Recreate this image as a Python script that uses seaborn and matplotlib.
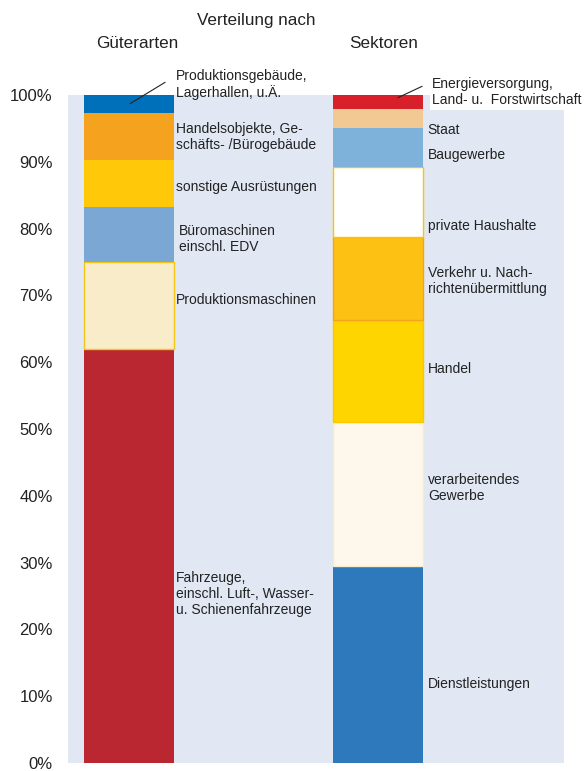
import numpy as np
import matplotlib.pyplot as plt
import seaborn as sns

sns.set_style("white")
plt.rcParams['font.family'] = ['Liberation Sans', 'DejaVu Sans']

# Verteilung nach Güterarten (bottom to top), in %
goods = ["Fahrzeuge,\neinschl. Luft-, Wasser-\nu. Schienenfahrzeuge",
         "Produktionsmaschinen",
         "Büromaschinen\neinschl. EDV",
         "sonstige Ausrüstungen",
         "Handelsobjekte, Ge-\nschäfts- /Bürogebäude",
         "Produktionsgebäude,\nLagerhallen, u.Ä."]
goods_vals = [62.0, 13.0, 8.2, 7.1, 7.0, 2.7]
goods_colors = ["#BA2730", "#F8EDC8", "#7BA7D4", "#FFC90A", "#F5A21F", "#0070BA"]
goods_edges = ["none", "#F5C518", "none", "none", "none", "none"]

# Verteilung nach Sektoren (bottom to top), in %
sectors = ["Dienstleistungen",
           "verarbeitendes\nGewerbe",
           "Handel",
           "Verkehr u. Nach-\nrichtenübermittlung",
           "private Haushalte",
           "Baugewerbe",
           "Staat",
           "Energieversorgung,\nLand- u.  Forstwirtschaft"]
sector_vals = [29.5, 21.5, 15.3, 12.4, 10.5, 5.9, 2.8, 2.1]
sector_colors = ["#2E78BC", "#FDF7EC", "#FFD500", "#FDC114", "#FFFFFF",
                 "#7EB2DB", "#F2C992", "#D7202A"]
sector_edges = ["none", "#F8EBC8", "#FFC400", "#F5A21F", "#FFC400",
                "none", "none", "none"]

yticks = [0, 10, 20, 30, 40, 50, 60, 70, 80, 90, 100]

W, H = 587, 771
fig = plt.figure(figsize=(W / 100, H / 100), dpi=100)
ax = fig.add_axes([68 / W, (H - 763) / H, (564 - 68) / W, 668 / H])
ax.set_facecolor("#E1E8F3")

bar_w = 90 / 249
for xpos, vals, cols, edges in [(0, goods_vals, goods_colors, goods_edges),
                                (1, sector_vals, sector_colors, sector_edges)]:
    bottom = 0
    for v, c, e in zip(vals, cols, edges):
        ax.bar(xpos, v, bottom=bottom, width=bar_w, color=c,
               edgecolor=e, linewidth=1.0 if e != "none" else 0)
        bottom += v

ax.set_xlim(-61 / 249, 1 + 186 / 249)
ax.set_ylim(0, 100)
ax.set_xticks([])
ax.set_yticks(yticks)
ax.set_yticklabels([f"{t}%" for t in yticks])
ax.tick_params(axis="y", length=0, pad=11, labelsize=12, labelcolor="#222222")
for s in ax.spines.values():
    s.set_visible(False)

fs = 10
tc = "#222222"
# left labels (y positions in %)
left_pos = [25.3, 69.3, 78.4, 86.2, 93.7, 101.6]
left_x = [0.19, 0.19, 0.2, 0.19, 0.19, 0.19]
for lab, y, x in zip(goods, left_pos, left_x):
    ax.text(x, y, lab, fontsize=fs, color=tc, va="center", ha="left",
            linespacing=1.2, clip_on=False)
ax.plot([0.004, 0.145], [98.7, 101.9], color="#222222", lw=0.8, clip_on=False)

right_pos = [11.8, 41.2, 59.0, 72.2, 80.4, 91.0, 94.8, 100.4]
for lab, y in zip(sectors, right_pos):
    x = 1.2
    kw = {}
    if lab.startswith("Energie"):
        x = 1.217
        kw = dict(bbox=dict(facecolor="white", edgecolor="none", pad=1.5))
    ax.text(x, y, lab, fontsize=fs, color=tc, va="center", ha="left",
            linespacing=1.2, clip_on=False, **kw)
ax.plot([1.08, 1.177], [99.6, 101.3], color="#222222", lw=0.8, clip_on=False)

fig.text(256 / W, 1 - 20 / H, "Verteilung nach", fontsize=12.3, color=tc,
         ha="center", va="center")
fig.text(137 / W, 1 - 43 / H, "Güterarten", fontsize=12.3, color=tc,
         ha="center", va="center")
fig.text(384 / W, 1 - 43 / H, "Sektoren", fontsize=12.3, color=tc,
         ha="center", va="center")

fig.savefig("out.png", dpi=100, facecolor="white")
